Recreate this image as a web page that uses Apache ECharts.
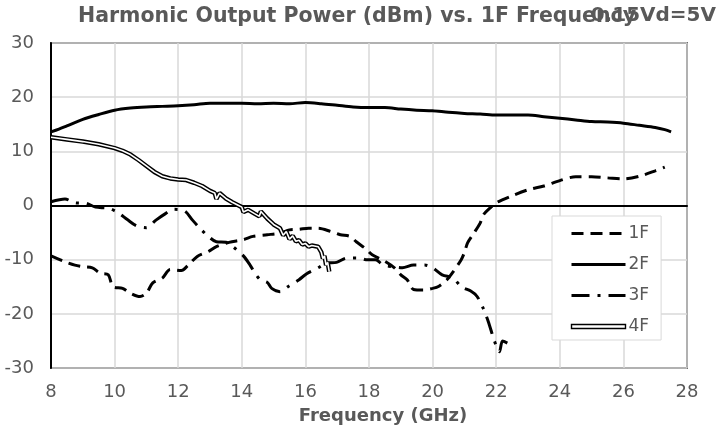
<!DOCTYPE html>
<html>
<head>
<meta charset="utf-8">
<title>Harmonic Output Power vs. 1F Frequency</title>
<script src="https://cdn.jsdelivr.net/npm/echarts@6/dist/echarts.min.js"></script>
<style>
html, body { margin: 0; padding: 0; background: #fff; }
#main { width: 719px; height: 432px; }
</style>
</head>
<body>
<div id="main"></div>
<script>
// tick labels
var freqTicks = [8, 10, 12, 14, 16, 18, 20, 22, 24, 26, 28];
var powerTicks = [-30, -20, -10, 0, 10, 20, 30];

// 1F (dashed)
var f1 = [8.0, 8.4, 8.75, 9.0, 9.3, 9.55, 9.8, 9.95, 10.25, 10.5, 10.8, 11.0, 11.2, 11.5, 11.75, 12.1, 12.3, 12.6, 12.95, 13.2, 13.6, 14.05, 14.35, 14.8, 15.2, 15.5, 15.8, 16.1, 16.4, 16.8, 17.1, 17.4, 17.6, 17.9, 18.1, 18.5, 18.8, 19.0, 19.2, 19.4, 19.7, 20.0, 20.2, 20.45, 20.65, 20.9, 21.0, 21.1, 21.3, 21.5, 21.6, 21.8, 22.0, 22.5, 23.0, 23.5, 24.0, 24.5, 25.0, 25.5, 26.0, 26.5, 27.0, 27.3];
var p1 = [-9.3, -10.3, -11.0, -11.3, -11.5, -12.5, -12.8, -15.0, -15.3, -16.2, -16.8, -16.2, -14.3, -13.4, -11.8, -12.0, -11.1, -9.4, -8.5, -7.6, -6.8, -6.3, -5.7, -5.4, -5.1, -4.5, -4.4, -4.2, -4.2, -4.8, -5.4, -5.7, -6.7, -8.0, -9.1, -10.3, -11.5, -12.8, -13.7, -15.5, -15.6, -15.3, -14.9, -13.7, -12.2, -10.0, -8.7, -6.9, -5.1, -3.2, -1.7, -0.5, 0.5, 1.8, 2.9, 3.6, 4.6, 5.3, 5.3, 5.1, 4.9, 5.4, 6.4, 7.1];

// 2F (solid)
var f2 = [8.0, 8.25, 8.5, 9.0, 9.5, 10.0, 10.5, 11.0, 11.5, 12.0, 12.5, 13.0, 13.5, 14.0, 14.5, 15.0, 15.5, 16.0, 16.5, 17.0, 17.5, 18.0, 18.5, 19.0, 19.5, 20.0, 20.5, 21.0, 21.5, 22.0, 22.5, 23.0, 23.5, 24.0, 24.5, 25.0, 25.5, 26.0, 26.5, 27.0, 27.3, 27.5];
var p2 = [13.6, 14.1, 14.7, 15.9, 16.8, 17.6, 18.0, 18.2, 18.3, 18.4, 18.6, 18.9, 18.9, 18.9, 18.8, 18.9, 18.8, 19.0, 18.8, 18.5, 18.2, 18.1, 18.1, 17.8, 17.6, 17.5, 17.2, 17.0, 16.9, 16.7, 16.7, 16.7, 16.4, 16.1, 15.8, 15.5, 15.4, 15.2, 14.8, 14.4, 14.0, 13.6];

// 3F (dash-dot)
var f3 = [8.0, 8.44, 8.75, 9.1, 9.4, 9.8, 10.1, 10.4, 10.7, 11.0, 11.3, 11.6, 11.85, 12.2, 12.45, 12.7, 12.95, 13.2, 13.5, 13.7, 14.05, 14.26, 14.45, 14.6, 14.8, 14.94, 15.2, 15.45, 15.8, 16.04, 16.4, 16.67, 16.98, 17.3, 17.7, 17.9, 18.2, 18.45, 18.75, 19.05, 19.4, 19.75, 20.0, 20.3, 20.65, 20.9, 21.2, 21.4, 21.6, 21.75, 21.95, 22.1, 22.2, 22.35];
var p3 = [0.7, 1.2, 0.5, 0.4, -0.3, -0.5, -1.3, -2.6, -3.8, -4.1, -2.7, -1.5, -0.7, -1.0, -2.7, -4.3, -5.7, -6.7, -6.8, -7.5, -9.3, -11.0, -12.8, -13.8, -14.2, -15.3, -15.9, -15.0, -13.7, -12.6, -11.5, -10.6, -10.5, -9.7, -9.7, -10.0, -10.0, -11.0, -11.3, -11.5, -11.0, -11.0, -11.5, -12.8, -13.4, -15.0, -15.8, -16.8, -19.1, -21.4, -25.1, -27.0, -25.0, -25.4];

// 4F (double line)
var f4 = [8.0, 8.5, 9.0, 9.5, 10.0, 10.25, 10.5, 10.75, 11.0, 11.25, 11.5, 11.75, 12.0, 12.25, 12.5, 12.75, 13.0, 13.15, 13.2, 13.3, 13.5, 13.7, 13.9, 14.0, 14.05, 14.2, 14.4, 14.55, 14.6, 14.8, 15.0, 15.2, 15.3, 15.4, 15.5, 15.6, 15.7, 15.8, 15.9, 16.0, 16.1, 16.2, 16.4, 16.5, 16.55, 16.6, 16.65, 16.7, 16.75];
var p4 = [12.6, 12.2, 11.8, 11.3, 10.6, 10.1, 9.4, 8.4, 7.3, 6.2, 5.4, 5.0, 4.8, 4.7, 4.2, 3.6, 2.7, 2.3, 1.2, 2.3, 1.3, 0.6, 0.0, -0.3, -1.2, -0.8, -1.5, -2.0, -1.1, -2.4, -3.5, -4.2, -5.5, -4.8, -6.2, -5.6, -6.6, -6.4, -7.2, -7.0, -7.6, -7.4, -7.6, -8.6, -9.8, -9.3, -11.0, -10.5, -12.2];

var font = 'DejaVu Sans';
var grey = '#595959';

function pairs(xs, ys){
  var out = [];
  for (var i = 0; i < xs.length; i++) out.push([xs[i], ys[i]]);
  return out;
}

var chart = echarts.init(document.getElementById('main'), null, {renderer: 'canvas'});

var option = {
  animation: false,
  backgroundColor: '#fff',
  title: [{
    text: 'Harmonic Output Power (dBm) vs. 1F Frequency',
    left: 78, top: 6, padding: 0,
    textStyle: {fontFamily: font, fontSize: 20.5, fontWeight: 'bold', color: grey}
  }, {
    text: '0.15Vd=5V',
    right: 3, top: 6, padding: 0,
    textStyle: {fontFamily: font, fontSize: 20, fontWeight: 'bold', color: grey}
  }],
  grid: {
    left: 51, right: 32, top: 43, bottom: 64,
    show: true, borderColor: '#000', borderWidth: 1.5
  },
  legend: {
    orient: 'vertical',
    left: 552, top: 216,
    padding: [9, 12, 5, 18],
    itemWidth: 54, itemHeight: 14, itemGap: 14,
    backgroundColor: '#fff',
    borderColor: '#d9d9d9', borderWidth: 1,
    textStyle: {fontFamily: font, fontSize: 17, color: grey, padding: [0, 0, 0, -2]},
    itemStyle: {opacity: 0},
    lineStyle: {width: 3},
    data: [
      {name: '1F'},
      {name: '2F'},
      {name: '3F'},
      {name: '4F', icon: 'path://M0,0L54,0L54,4L0,4Z',
        itemStyle: {opacity: 1, color: '#fff', borderColor: '#000', borderWidth: 1.4}}
    ]
  },
  xAxis: {
    type: 'value',
    min: freqTicks[0], max: freqTicks[freqTicks.length - 1], interval: 2,
    axisLine: {lineStyle: {color: '#000', width: 2}},
    axisTick: {show: false},
    axisLabel: {fontFamily: font, fontSize: 18, color: grey, margin: 15},
    splitLine: {lineStyle: {color: '#d9d9d9', width: 1.5}},
    name: 'Frequency (GHz)',
    nameLocation: 'middle',
    nameGap: 39,
    nameTextStyle: {fontFamily: font, fontSize: 18, fontWeight: 'bold', color: grey, padding: [0, 0, 0, 28]}
  },
  yAxis: {
    type: 'value',
    min: powerTicks[0], max: powerTicks[powerTicks.length - 1], interval: 10,
    axisLine: {show: true, lineStyle: {color: '#000', width: 2}},
    axisTick: {show: false},
    axisLabel: {fontFamily: font, fontSize: 18, color: grey, margin: 17},
    splitLine: {lineStyle: {color: '#d9d9d9', width: 1.5}}
  },
  series: [{
    name: '1F', type: 'line', symbol: 'none', smooth: 0.3,
    lineStyle: {color: '#000', width: 3, type: [12, 7]},
    itemStyle: {color: '#000'},
    data: pairs(f1, p1)
  }, {
    name: '2F', type: 'line', symbol: 'none', smooth: 0.3,
    lineStyle: {color: '#000', width: 3},
    itemStyle: {color: '#000'},
    data: pairs(f2, p2)
  }, {
    name: '3F', type: 'line', symbol: 'none', smooth: 0.3,
    lineStyle: {color: '#000', width: 3, type: [18, 8, 3, 8]},
    itemStyle: {color: '#000'},
    data: pairs(f3, p3)
  }, {
    name: '4F', type: 'line', symbol: 'none',
    lineStyle: {color: '#000', width: 4.5},
    itemStyle: {color: '#000'},
    data: pairs(f4, p4)
  }, {
    // white core of the double line
    name: '4F inner', type: 'line', symbol: 'none', silent: true,
    lineStyle: {color: '#fff', width: 1.6},
    itemStyle: {color: '#fff'},
    data: pairs(f4, p4)
  }]
};

chart.setOption(option);
</script>
</body>
</html>
